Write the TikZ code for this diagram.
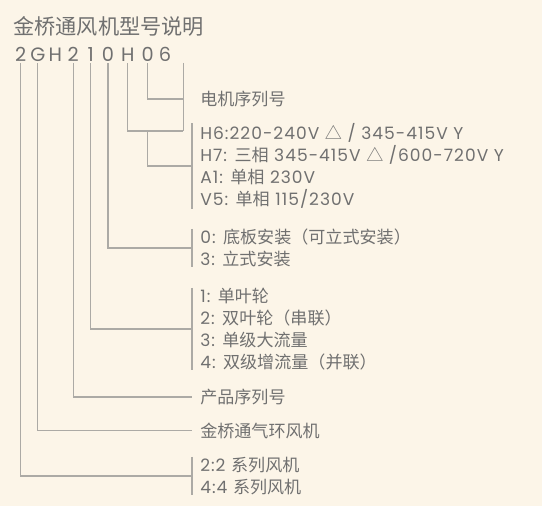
\documentclass[tikz,border=0pt]{standalone}
\usepackage{fontspec}
\setmainfont{Poppins}[LetterSpace=6]
\newfontfamily\cjk{Noto Sans CJK SC}
\newcommand{\zhtxt}[1]{{\cjk #1}}
\usetikzlibrary{positioning, calc}
\definecolor{bgcream}{RGB}{252,245,232}
\definecolor{inkgray}{RGB}{112,112,112}
\definecolor{wiregray}{RGB}{172,170,165}

\begin{document}
\begin{tikzpicture}[
    x=0.75pt, y=-0.75pt,
    heading/.style={anchor=west, inner sep=0pt, text=inkgray, font=\cjk\fontsize{15.9}{18}\selectfont},
    digit/.style={anchor=base, inner sep=1pt, text=inkgray, font=\fontsize{14.5}{17}\selectfont},
    desc/.style={anchor=west, inner sep=0pt, text=inkgray, align=left, font=\fontsize{12.8}{16.4}\selectfont},
    conn/.style={draw=wiregray, line width=0.8pt}
]

\fill[bgcream] (0,0) rectangle (542,506);
\useasboundingbox (0,0) rectangle (542,506);

\node[heading] (title) at (13,26) {金桥通风机型号说明};

\node[digit] (c1) at (20.7,61.7) {2};
\node[digit] (cG) at (37.8,61.7) {G};
\node[digit, right=0pt of cG] (cH1) {H};
\node[digit] (c3) at (73.3,61.7) {2};
\node[digit] (c4) at (90.7,61.7) {1};
\node[digit] (c5) at (108,61.7) {0};
\node[digit] (c6) at (127.8,61.7) {H};
\node[digit] (c7) at (147.6,61.7) {0};
\node[digit] (c8) at (165,61.7) {6};

\node[desc] (motorNo) at (200,99) {\zhtxt{电机序列号}};
\node[desc] (motorType) at (200,166) {H6:220-240V \zhtxt{△} / 345-415V Y\\ H7: \zhtxt{三相} 345-415V \zhtxt{△} /600-720V Y\\ A1: \zhtxt{单相} 230V\\ V5: \zhtxt{单相} 115/230V};
\node[desc] (mount) at (200,248) {0: \zhtxt{底板安装（可立式安装）}\\ 3: \zhtxt{立式安装}};
\node[desc] (impeller) at (200,329) {1: \zhtxt{单叶轮}\\ 2: \zhtxt{双叶轮（串联）}\\ 3: \zhtxt{单级大流量}\\ 4: \zhtxt{双级增流量（并联）}};
\node[desc] (product) at (200,397) {\zhtxt{产品序列号}};
\node[desc] (ring) at (200,430.5) {\zhtxt{金桥通气环风机}};
\node[desc] (series) at (200,476) {2:2 \zhtxt{系列风机}\\ 4:4 \zhtxt{系列风机}};

\coordinate (motorTop) at (183.3,63);
\coordinate (motorJoin) at (183.3,131);

\draw[conn] (motorTop) -- (motorJoin);
\draw[conn] (c7.south) |- (motorTop |- motorNo.west);
\draw[conn] (c6.south) |- (motorJoin);
\draw[conn] (c7.south |- motorJoin) |- ([xshift=-6pt]motorType.west);
\draw[conn] (c5.south) |- ([xshift=-6pt]mount.west);
\draw[conn] (c4.south) |- ([xshift=-6pt]impeller.west);
\draw[conn] (c3.south) |- ([xshift=-6pt]product.west);
\draw[conn] (cG.south) |- ([xshift=-6pt]ring.west);
\draw[conn] (c1.south) |- ([xshift=-6pt]series.west);

\draw[conn] ([xshift=-6pt]motorType.north west) -- ([xshift=-6pt]motorType.south west);
\draw[conn] ([xshift=-6pt]mount.north west) -- ([xshift=-6pt]mount.south west);
\draw[conn] ([xshift=-6pt]impeller.north west) -- ([xshift=-6pt]impeller.south west);
\draw[conn] ([xshift=-6pt]series.north west) -- ([xshift=-6pt]series.south west);

\end{tikzpicture}
\end{document}
